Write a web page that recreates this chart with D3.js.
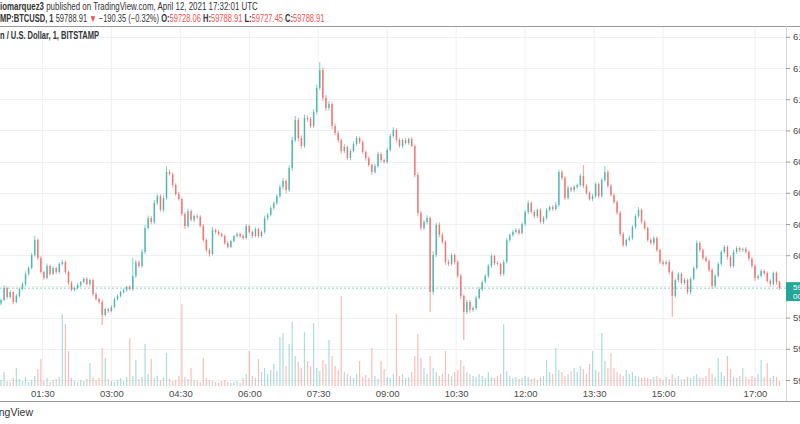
<!DOCTYPE html>
<html><head><meta charset="utf-8">
<script src="https://cdn.jsdelivr.net/npm/d3@7"></script>
<style>body{margin:0;background:#fff;}svg{display:block;font-family:"Liberation Sans",Arial,sans-serif;}</style>
</head><body><svg id="c" width="800" height="424"></svg>
<script>
// ---- data (BTCUSD, Bitstamp, 4-minute bars) ----
const firstOpen = 59690;
const closes = [
59713,59790,59732,59764,59700,59739,59783,59815,59880,59918,
60001,60098,59982,59892,59854,59931,59880,59918,59892,59944,
59956,59892,59822,59777,59790,59809,59828,59848,59815,59841,
59751,59719,59700,59617,59655,59642,59668,59719,59739,59764,
59777,59796,59783,59867,59956,59931,60021,60174,60238,60213,
60335,60379,60290,60367,60533,60520,60450,60392,60360,60264,
60187,60283,60226,60251,60245,60187,60098,60033,60008,60162,
60149,60136,60123,60078,60053,60091,60123,60136,60123,60110,
60187,60149,60123,60168,60123,60149,60238,60258,60303,60335,
60379,60437,60476,60418,60559,60738,60867,60751,60700,60880,
60873,60828,60918,61072,61187,61008,60944,60969,60828,60783,
60738,60668,60694,60623,60668,60713,60751,60726,60662,60623,
60578,60533,60572,60649,60610,60598,60674,60764,60803,60738,
60700,60738,60719,60745,60700,60514,60271,60174,60213,60238,
59764,60001,60194,60130,60085,59956,59944,60001,59956,59867,
59739,59636,59700,59649,59662,59726,59783,59828,59867,59931,
59995,59950,59944,59880,59956,60098,60130,60149,60162,60142,
60200,60277,60335,60277,60251,60290,60213,60238,60290,60309,
60296,60322,60533,60495,60367,60431,60418,60437,60450,60508,
60444,60399,60360,60379,60456,60379,60482,60533,60444,60386,
60341,60271,60136,60065,60098,60110,60181,60251,60290,60213,
60174,60098,60078,60110,60033,59956,59944,59956,59892,59739,
59841,59880,59822,59841,59764,59848,59918,60078,60033,59982,
59963,59905,59803,59867,59944,60021,60053,59988,59931,60021,
60046,60033,60040,60021,59976,59931,59854,59867,59899,59886,
59835,59815,59886,59828,59788.91];
const wickUp = [
10,15,8,12,6,14,9,11,16,12, 14,26,10,12,8,15,9,13,7,11, 15,10,8,12,9,14,7,10,12,8,
9,11,7,13,10,8,12,9,11,8, 10,7,12,115,14,10,18,20,16,12, 18,14,12,16,38,15,10,12,14,11,
12,16,10,9,14,11,13,10,12,18, 9,11,8,10,12,9,7,10,8,11, 14,10,9,12,8,10,15,12,14,10,
12,15,18,10,16,20,25,14,18,22, 16,14,18,22,51,15,20,18,12,16, 14,12,18,10,12,15,14,10,12,9,
11,8,12,15,10,9,14,12,18,10, 12,9,14,10,12,8,16,14,12,18, 10,25,14,18,12,10,15,12,10,14,
12,10,14,12,10,15,12,10,14,12, 16,10,12,9,14,12,10,15,12,10, 12,14,16,10,12,8,10,14,12,10,
12,20,15,12,10,14,9,12,10,14, 70,12,10,14,12,10,14,38,12,10, 12,10,14,12,10,15,12,14,18,10,
12,10,14,12,10,9,12,10,14,12, 10,12,9,14,10,12,10,18,12,10, 12,10,14,12,10,9,12,10,12,14,
12,10,9,12,10,14,12,10,12,9, 10,12,9,10,8];
const wickDn = [
12,9,14,10,15,8,11,9,13,10, 9,12,14,10,12,9,11,8,13,10, 10,12,14,9,11,10,12,8,10,12,
14,10,12,64,10,12,9,11,8,10, 9,12,10,12,14,10,12,15,10,14, 12,15,10,14,12,10,16,12,10,14,
18,12,10,14,12,10,12,14,18,10, 12,10,9,12,10,8,11,9,12,10, 10,12,14,9,12,10,12,14,10,12,
14,12,16,20,12,18,14,22,16,12, 18,14,12,16,14,20,18,16,22,14, 16,18,14,12,15,10,12,14,12,16,
12,18,10,12,14,10,12,9,12,16, 12,14,10,12,9,16,22,18,12,14, 128,18,14,16,12,18,14,12,16,14,
20,180,14,18,12,14,10,12,9,14, 12,14,10,16,12,10,14,12,10,12, 10,12,14,10,16,12,10,12,14,10,
12,10,14,16,12,10,14,12,10,12, 14,12,10,14,12,16,10,12,14,12, 10,12,16,14,12,10,14,12,10,12,
14,12,10,16,12,14,12,10,14,135, 12,14,10,12,16,14,10,12,14,12, 10,14,18,12,10,12,14,16,12,10,
12,14,10,12,14,16,18,12,10,14, 12,16,10,18,12];
const volumes = [
6,14,5,4,8,18,7,5,9,4, 6,10,17,27,5,8,4,6,7,9, 72,62,35,8,5,4,6,5,7,23,
9,6,8,38,28,7,5,4,6,8, 5,9,48,10,26,7,9,42,12,27, 8,10,6,9,33,7,5,6,10,82,
9,7,18,6,5,4,28,8,6,5, 4,3,5,6,4,3,4,5,3,8, 12,35,10,8,27,14,18,12,16,22,
15,49,53,20,42,64,30,24,18,54, 25,20,63,18,15,26,22,46,30,20, 16,90,14,12,10,8,12,25,9,11,
8,38,10,7,25,17,9,8,12,72, 10,12,8,9,14,30,52,28,18,12, 30,18,14,10,12,35,12,10,14,16,
26,20,14,12,10,9,12,10,8,14, 9,8,10,12,62,15,10,8,9,7, 8,10,9,7,8,6,9,10,26,14,
12,38,16,14,10,12,15,18,14,20, 17,12,22,35,16,14,53,25,18,33, 18,14,12,10,16,12,14,10,9,8,
9,8,7,9,10,8,6,9,7,12, 8,10,6,7,9,8,10,12,9,8, 10,18,12,9,28,14,10,30,17,9,
8,10,18,9,7,10,8,12,26,9, 23,8,10,9,5];
const startTime = "2021-04-12T00:36:00Z";
const barMinutes = 4;
const timeTicks = ["01:30","03:00","04:30","06:00","07:30","09:00","10:30","12:00","13:30","15:00","17:00"];
const priceTicks = [59200,59400,59600,59800,60000,60200,60400,60600,60800,61000,61200,61400];
const lastPrice = 59788.91;
const countdown = "00:59";

// ---- layout ----
const svg = d3.select("#c");
const W = 800, H = 424;
const plotRight = 786, plotTop = 26, plotBottom = 386, axisBottom = 401;
const up = "#26a69a", dn = "#ef5350";
const day = d => new Date("2021-04-12T" + d + ":00Z");
const t0 = new Date(startTime).getTime();
const bars = closes.map((c, i) => {
  const o = i ? closes[i-1] : firstOpen;
  return {t: new Date(t0 + i*barMinutes*60000), o, c,
          h: Math.max(o,c) + wickUp[i], l: Math.min(o,c) - wickDn[i], v: volumes[i]};
});

const x = d3.scaleUtc().domain([day("01:30"), day("17:00")]).range([42.4, 755]);
const y = d3.scaleLinear().domain([59200, 61200]).range([380, 68]);
const yv = d3.scaleLinear().domain([0, 100]).range([plotBottom, plotBottom - 100]);

svg.append("defs").append("clipPath").attr("id","clip")
  .append("rect").attr("x",0).attr("y",plotTop).attr("width",plotRight).attr("height",axisBottom-plotTop);

// grid
const grid = svg.append("g").attr("clip-path","url(#clip)");
grid.selectAll(".vg").data(timeTicks).join("line")
  .attr("x1", d=>x(day(d))).attr("x2", d=>x(day(d))).attr("y1", plotTop).attr("y2", plotBottom)
  .attr("stroke","#f0f0f0").attr("stroke-width",1);
grid.selectAll(".hg").data(priceTicks).join("line")
  .attr("x1",0).attr("x2",plotRight).attr("y1", d=>Math.round(y(d))+0.5).attr("y2", d=>Math.round(y(d))+0.5)
  .attr("stroke","#f0f0f0").attr("stroke-width",1);

const g = svg.append("g").attr("clip-path","url(#clip)");
// volume
g.selectAll(".vol").data(bars).join("rect")
  .attr("x", d=>x(d.t)-0.6).attr("width",1.2)
  .attr("y", d=>yv(d.v)).attr("height", d=>plotBottom - yv(d.v))
  .attr("fill", d=> d.c>=d.o ? up : dn).attr("opacity",0.38);
// last price line
g.append("line").attr("x1",0).attr("x2",plotRight).attr("y1",y(lastPrice)).attr("y2",y(lastPrice))
  .attr("stroke",up).attr("stroke-dasharray","2,2").attr("opacity",0.5);
// wicks
g.selectAll(".wick").data(bars).join("line")
  .attr("x1", d=>x(d.t)).attr("x2", d=>x(d.t)).attr("y1", d=>y(d.h)).attr("y2", d=>y(d.l))
  .attr("stroke", d=> d.c>=d.o ? up : dn).attr("stroke-width",0.8).attr("opacity",0.7);
// bodies
g.selectAll(".body").data(bars).join("rect")
  .attr("x", d=>x(d.t)-0.8).attr("width",1.6)
  .attr("y", d=>y(Math.max(d.o,d.c)))
  .attr("height", d=>Math.max(1, Math.abs(y(d.o)-y(d.c))))
  .attr("fill", d=> d.c>=d.o ? up : dn).attr("opacity",0.62);

// frame lines
svg.append("line").attr("x1",0).attr("x2",W).attr("y1",26.5).attr("y2",26.5).attr("stroke","#9a9a9a");
svg.append("line").attr("x1",0).attr("x2",W).attr("y1",axisBottom+0.5).attr("y2",axisBottom+0.5).attr("stroke","#9a9a9a");
svg.append("line").attr("x1",plotRight+0.5).attr("x2",plotRight+0.5).attr("y1",plotTop).attr("y2",axisBottom).attr("stroke","#d6d6d6");

// time axis
const xa = svg.append("g").attr("transform",`translate(0,${plotBottom})`)
  .call(d3.axisBottom(x).tickValues(timeTicks.map(day)).tickFormat(d3.utcFormat("%H:%M")).tickSize(0).tickPadding(4));
xa.select(".domain").remove();
xa.selectAll("text").attr("fill","#4a4a4a").attr("font-size",9.5).attr("font-family","Liberation Sans, Arial, sans-serif");

// price axis (the label hidden under the last-price badge is left out)
const by = y(lastPrice);
const shownTicks = priceTicks.filter(v => Math.abs(y(v) - by) > 10);
const ya = svg.append("g").attr("transform",`translate(${plotRight},0)`)
  .call(d3.axisRight(y).tickValues(shownTicks).tickFormat(d=>d.toFixed(2)).tickSize(4).tickPadding(3));
ya.select(".domain").remove();
ya.selectAll("line").attr("stroke","#9a9a9a");
ya.selectAll("text").attr("fill","#4a4a4a").attr("font-size",9.5).attr("font-family","Liberation Sans, Arial, sans-serif");

// last price badge
svg.append("rect").attr("x",plotRight).attr("y",by-6).attr("width",W-plotRight).attr("height",19).attr("fill",up);
svg.append("text").attr("x",plotRight+7).attr("y",by+2).attr("fill","#fff").attr("font-size",8).text(lastPrice.toFixed(2));
svg.append("text").attr("x",plotRight+7).attr("y",by+11).attr("fill","#fff").attr("font-size",8).text(countdown);

// header texts
function fitLine(sel, x0, x1) {
  const w = sel.node().getComputedTextLength();
  const s = (x1 - x0) / w;
  sel.attr("transform", `translate(${x0},0) scale(${s},1) translate(${-x0},0)`);
}
const l1 = svg.append("text").attr("x",0).attr("y",10.5).attr("font-size",10).attr("fill","#333");
l1.append("tspan").attr("font-weight","bold").text("iomarquez3");
l1.append("tspan").text(" published on TradingView.com, April 12, 2021 17:32:01 UTC");
fitLine(l1, 0, 258);

const red = "#ef5350";
const l2 = svg.append("text").attr("x",0).attr("y",22).attr("font-size",10).attr("fill","#333");
l2.append("tspan").attr("font-weight","bold").text("MP:BTCUSD, 1");
l2.append("tspan").text(" 59788.91 ");
l2.append("tspan").attr("fill",red).text("▼");
l2.append("tspan").text(" −190.35 (−0.32%) ");
[["O:","59728.06"],["H:","59788.91"],["L:","59727.45"],["C:","59788.91"]].forEach(([k,v],i)=>{
  l2.append("tspan").attr("font-weight","bold").text((i?" ":"")+k);
  l2.append("tspan").attr("fill",red).text(v);
});
fitLine(l2, 0, 325);

const l3 = svg.append("text").attr("x",0).attr("y",39).attr("font-size",10).attr("font-weight","bold").attr("fill","#333")
  .text("n / U.S. Dollar, 1, BITSTAMP");
fitLine(l3, 0, 99);

svg.append("text").attr("x",33).attr("y",416).attr("text-anchor","end").attr("font-size",10.5).attr("fill","#333").text("TradingView");
</script></body></html>
